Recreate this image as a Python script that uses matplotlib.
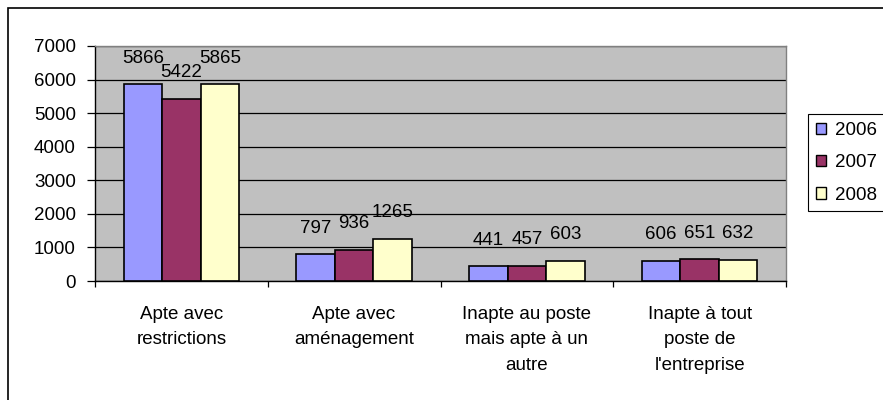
import numpy as np
import matplotlib
matplotlib.use('Agg')
import matplotlib.pyplot as plt
import matplotlib.patches as mpatches

plt.rcParams['font.family'] = ['Liberation Sans', 'DejaVu Sans']

categories = ['Apte avec\nrestrictions', 'Apte avec\naménagement',
              'Inapte au poste\nmais apte à un\nautre', 'Inapte à tout\nposte de\nl\'entreprise']
years = ['2006', '2007', '2008']
v2006 = [5866, 797, 441, 606]
v2007 = [5422, 936, 457, 651]
v2008 = [5865, 1265, 603, 632]
colors = ['#9999FF', '#993366', '#FFFFCC']
fs = 13.5

fig = plt.figure(figsize=(8.83, 4.0), dpi=100)
ax = fig.add_axes([95/883, 1-281/400, (786-95)/883, (281-46)/400])
ax.set_facecolor('#C0C0C0')

x = np.arange(len(categories))
w = 0.223
series = [v2006, v2007, v2008]
for i, vals in enumerate(series):
    pos = x + (i - 1) * w
    ax.bar(pos, vals, w, color=colors[i], edgecolor='black', linewidth=1.2,
           label=years[i], zorder=3)
    for p, v in zip(pos, vals):
        ax.annotate(str(v), (p, v), xytext=(0, 26), textcoords='offset pixels',
                    ha='center', va='center', fontsize=fs, zorder=4)

ax.set_xlim(-0.5, len(categories) - 0.5)
ax.set_ylim(0, 7000)
ax.set_yticks(range(0, 7001, 1000))
ax.yaxis.grid(True, color='black', linewidth=0.9, zorder=1)
ax.set_axisbelow(True)
ax.tick_params(axis='y', direction='out', length=5.8, width=0.9, labelsize=fs, pad=8)

ax.set_xticks(x)
ax.set_xticklabels(categories, fontsize=fs, linespacing=1.65)
ax.tick_params(axis='x', length=0, pad=18)
ax.set_xticks(np.arange(-0.5, len(categories)), minor=True)
ax.tick_params(axis='x', which='minor', direction='out', length=4, width=0.9)

ax.spines['left'].set_color('black')
ax.spines['bottom'].set_color('black')
ax.spines['top'].set_color('#808080')
ax.spines['right'].set_color('#808080')
for s in ax.spines.values():
    s.set_linewidth(1.0)

handles = [mpatches.Patch(facecolor=c, edgecolor='black', linewidth=1.0) for c in colors]
leg = fig.legend(handles, years, loc='upper left', bbox_to_anchor=(808/883, 1-114/400),
                 fontsize=fs, frameon=True, fancybox=False, framealpha=1,
                 handlelength=0.55, handleheight=0.55, handletextpad=0.45,
                 labelspacing=0.82, borderpad=0.42, borderaxespad=0)
leg.get_frame().set_edgecolor('black')
leg.get_frame().set_linewidth(0.8)

# outer chart border (cropped at right and bottom)
fig.patches.append(mpatches.Rectangle((8/883, -0.1), 1.2, 1-8/400+0.1, transform=fig.transFigure,
                                      fill=False, edgecolor='black', linewidth=1.2))

fig.savefig('out.png', dpi=100)
